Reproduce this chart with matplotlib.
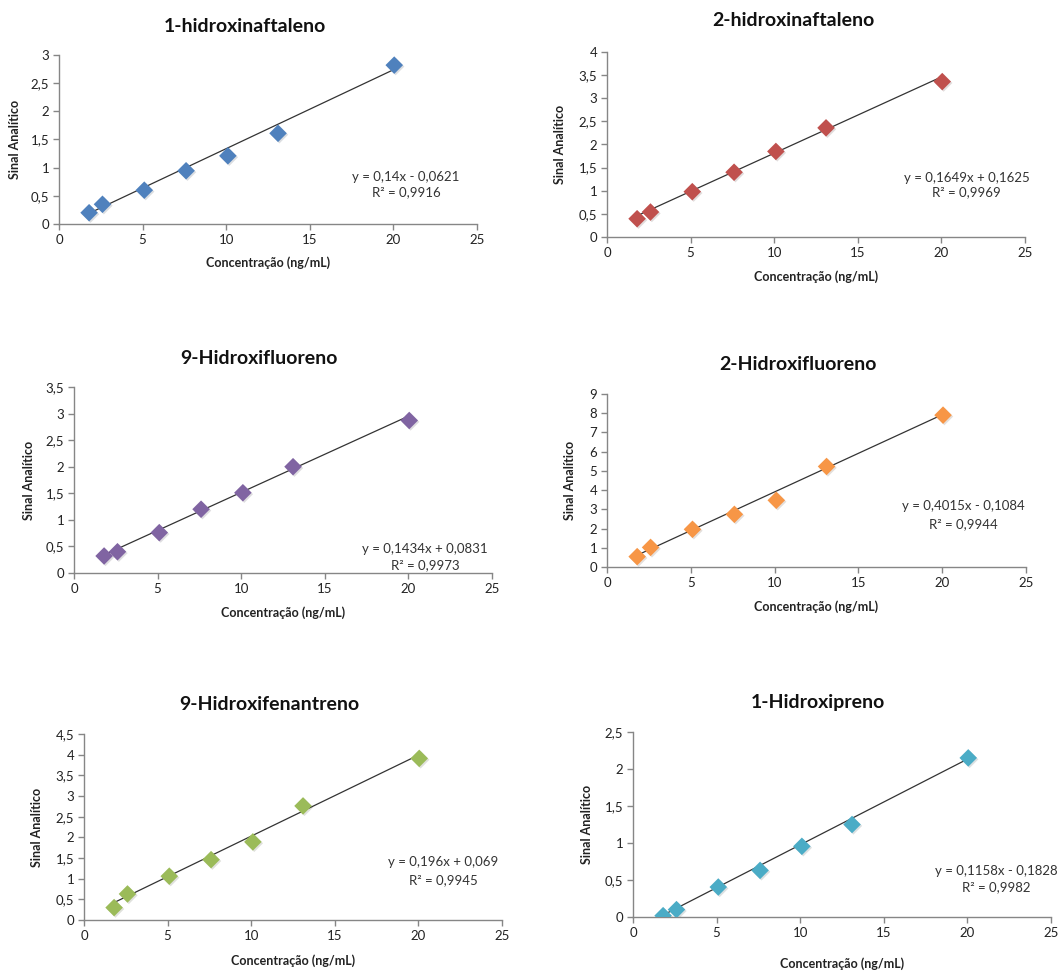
import matplotlib
matplotlib.use("Agg")
import matplotlib.pyplot as plt
import matplotlib.patheffects as pe
from matplotlib.ticker import FuncFormatter, MultipleLocator

plt.rcParams['font.family'] = ['Lato', 'DejaVu Sans']

W, H = 1060, 971

# concentrations (ng/mL)
conc = [1.8, 2.6, 5.1, 7.6, 10.1, 13.1, 20.05]

titles = ["1-hidroxinaftaleno", "2-hidroxinaftaleno", "9-Hidroxifluoreno",
          "2-Hidroxifluoreno", "9-Hidroxifenantreno", "1-Hidroxipreno"]

sig_1hn = [0.20, 0.35, 0.60, 0.945, 1.21, 1.61, 2.82]
sig_2hn = [0.395, 0.54, 0.98, 1.40, 1.85, 2.36, 3.36]
sig_9hf = [0.32, 0.40, 0.76, 1.20, 1.51, 2.00, 2.87]
sig_2hf = [0.54, 1.02, 1.96, 2.74, 3.47, 5.23, 7.90]
sig_9hp = [0.30, 0.63, 1.06, 1.46, 1.89, 2.76, 3.91]
sig_1hp = [0.018, 0.10, 0.405, 0.63, 0.955, 1.25, 2.15]
signals = [sig_1hn, sig_2hn, sig_9hf, sig_2hf, sig_9hp, sig_1hp]

slopes = [0.14, 0.1649, 0.1434, 0.4015, 0.196, 0.1158]
intercepts = [-0.0621, 0.1625, 0.0831, -0.1084, 0.069, -0.1828]
r2 = ["0,9916", "0,9969", "0,9973", "0,9944", "0,9945", "0,9982"]
eq_text = ["y = 0,14x - 0,0621", "y = 0,1649x + 0,1625", "y = 0,1434x + 0,0831",
           "y = 0,4015x - 0,1084", "y = 0,196x + 0,069", "y = 0,1158x - 0,1828"]

ymax = [3, 4, 3.5, 9, 4.5, 2.5]
ystep = [0.5, 0.5, 0.5, 1, 0.5, 0.5]
colors = ["#4F81BD", "#C0504D", "#8064A2", "#F79646", "#9BBB59", "#4BACC6"]

# axes boxes in pixels: left, top, right, bottom
boxes = [(59, 55, 477, 224), (607, 52, 1025, 237), (74, 387, 492, 573),
         (607, 394, 1026, 567), (84, 734, 502, 920), (633, 732, 1051, 917)]
title_pos = [(245, 26), (793, 21), (259, 358), (798, 364), (269, 704), (818, 702)]
eq_pos = [(0.83, 0.28, 0.19), (0.86, 0.32, 0.24), (0.84, 0.13, 0.04),
          (0.85, 0.35, 0.25), (0.86, 0.31, 0.215), (0.87, 0.25, 0.16)]
ylab_off = [44, 47, 45, 37, 47, 46]
xlab_off = [39, 40, 40, 40, 41, 47]


def comma(v, pos):
    s = ("%g" % v)
    return s.replace(".", ",")


fig = plt.figure(figsize=(W / 100, H / 100), dpi=100)

for i in range(6):
    l, t, r, b = boxes[i]
    ax = fig.add_axes([l / W, 1 - b / H, (r - l) / W, (b - t) / H])
    x = conc
    y = signals[i]
    x0, x1 = x[0], x[-1]
    ax.plot([x0, x1], [slopes[i] * x0 + intercepts[i], slopes[i] * x1 + intercepts[i]],
            color="#333333", lw=0.9, zorder=2)
    ax.scatter(x, y, marker="D", s=80, color=colors[i], zorder=3, linewidths=0,
               path_effects=[pe.SimplePatchShadow(offset=(1, -1), alpha=0.15), pe.Normal()])
    ax.set_xlim(0, 25)
    ax.set_ylim(0, ymax[i])
    ax.xaxis.set_major_locator(MultipleLocator(5))
    ax.yaxis.set_major_locator(MultipleLocator(ystep[i]))
    ax.yaxis.set_major_formatter(FuncFormatter(comma))
    for s in ["top", "right"]:
        ax.spines[s].set_visible(False)
    for s in ["left", "bottom"]:
        ax.spines[s].set_color("#868686")
        ax.spines[s].set_linewidth(1)
    ax.tick_params(direction="out", length=4, width=1, color="#868686",
                   labelsize=9.5, labelcolor="#222222", pad=3)
    ax.set_xlabel("Concentração (ng/mL)", fontsize=9, fontweight="bold", color="#222222")
    ax.set_ylabel("Sinal Analítico", fontsize=9, fontweight="bold", color="#222222")
    ax.xaxis.set_label_coords(0.5, -xlab_off[i] / (b - t), transform=ax.transAxes)
    ax.yaxis.set_label_coords(-ylab_off[i] / (r - l), 0.5)
    ax.xaxis.label.set_va("center")
    ax.yaxis.label.set_va("center")
    ex, ey1, ey2 = eq_pos[i]
    ax.text(ex, ey1, eq_text[i], transform=ax.transAxes, ha="center", va="center",
            fontsize=9.5, color="#333333")
    ax.text(ex, ey2, "R² = " + r2[i], transform=ax.transAxes, ha="center", va="center",
            fontsize=9.5, color="#333333")
    tx, ty = title_pos[i]
    fig.text(tx / W, 1 - ty / H, titles[i], ha="center", va="center",
             fontsize=14, fontweight="bold", color="#111111")

fig.savefig("out.png", dpi=100)
